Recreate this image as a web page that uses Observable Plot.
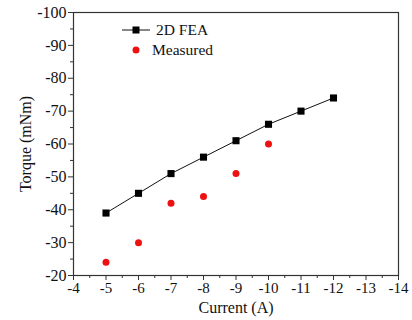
<!DOCTYPE html>
<html><head><meta charset="utf-8">
<script src="https://cdn.jsdelivr.net/npm/d3@7"></script>
<script src="https://cdn.jsdelivr.net/npm/@observablehq/plot@0.6"></script>
<style>
body{margin:0;background:#fff;}
#chart{position:relative;width:412px;height:320px;}
#legend{position:absolute;left:0;top:0;}
</style></head><body><div id="chart"></div>
<script>
const currentFEA = [-5, -6, -7, -8, -9, -10, -11, -12];
const torqueFEA = [-39, -45, -51, -56, -61, -66, -70, -74];
const currentMeas = [-5, -6, -7, -8, -9, -10];
const torqueMeas = [-24, -30, -42, -44, -51, -60];
const xTicks = [-4, -5, -6, -7, -8, -9, -10, -11, -12, -13, -14];
const xMinor = [-4.5, -5.5, -6.5, -7.5, -8.5, -9.5, -10.5, -11.5, -12.5, -13.5];
const yTicks = [-20, -30, -40, -50, -60, -70, -80, -90, -100];
const yMinor = [-25, -35, -45, -55, -65, -75, -85, -95];
const seriesNames = ["2D FEA", "Measured"];
const xLabel = "Current (A)";
const yLabel = "Torque (mNm)";

const fea = currentFEA.map((c, i) => ({current: c, torque: torqueFEA[i]}));
const meas = currentMeas.map((c, i) => ({current: c, torque: torqueMeas[i]}));
const fmt = d => String(d);
const axisColor = "#333";
const serif = '"Liberation Serif", "Times New Roman", Times, "DejaVu Serif", serif';

const plot = Plot.plot({
  width: 412,
  height: 320,
  marginLeft: 73,
  marginRight: 14,
  marginTop: 12,
  marginBottom: 45,
  style: {fontFamily: serif, fontSize: "15px", color: "#111", background: "#fff"},
  x: {domain: [-4, -14]},
  y: {domain: [-20, -100]},
  marks: [
    Plot.frame({stroke: axisColor, strokeWidth: 1.2}),
    Plot.axisX(xTicks, {tickSize: 5, tickPadding: 2, tickFormat: fmt, stroke: axisColor, fontSize: 15, fontFamily: serif, label: null}),
    Plot.axisX(xMinor, {tickSize: 3, tickFormat: () => "", stroke: axisColor, label: null}),
    Plot.axisY(yTicks, {tickSize: 5, tickPadding: 2, tickFormat: fmt, stroke: axisColor, fontSize: 16, fontFamily: serif, label: null}),
    Plot.axisY(yMinor, {tickSize: 3, tickFormat: () => "", stroke: axisColor, label: null}),
    Plot.text([xLabel], {frameAnchor: "bottom", dy: 32, lineAnchor: "middle", textAnchor: "middle", fontSize: 16, fontFamily: serif, fill: "#111"}),
    Plot.text([yLabel], {frameAnchor: "left", dx: -48, rotate: -90, lineAnchor: "middle", textAnchor: "middle", fontSize: 16, fontFamily: serif, fill: "#111"}),
    Plot.line(fea, {x: "current", y: "torque", stroke: "#111", strokeWidth: 1}),
    Plot.dot(fea, {x: "current", y: "torque", symbol: "square", r: 4, fill: "#000", stroke: "none"}),
    Plot.dot(meas, {x: "current", y: "torque", r: 3.5, fill: "#ee1111", stroke: "none"})
  ]
});
const chart = document.getElementById("chart");
chart.appendChild(plot);

// legend overlay
const ns = "http://www.w3.org/2000/svg";
const leg = document.createElementNS(ns, "svg");
leg.setAttribute("id", "legend");
leg.setAttribute("width", 412);
leg.setAttribute("height", 320);
leg.style.fontFamily = serif;
leg.innerHTML = `
<line x1="122" y1="30" x2="150" y2="30" stroke="#111" stroke-width="1"/>
<rect x="132.5" y="26.5" width="7" height="7" fill="#000"/>
<circle cx="136" cy="50" r="3.5" fill="#ee1111"/>
<text x="156" y="30" dy="0.35em" font-size="15.5" fill="#111">${seriesNames[0]}</text>
<text x="152" y="50" dy="0.35em" font-size="15.5" fill="#111">${seriesNames[1]}</text>`;
chart.appendChild(leg);
</script></body></html>
